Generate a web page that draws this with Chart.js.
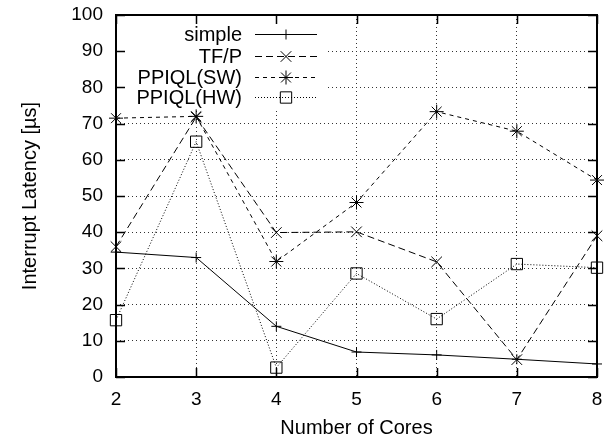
<!DOCTYPE html>
<html>
<head>
<meta charset="utf-8">
<script src="https://cdn.jsdelivr.net/npm/chart.js@4/dist/chart.umd.min.js"></script>
<style>
  html, body { margin: 0; padding: 0; background: #fff; }
  #wrap { width: 608px; height: 441px; }
</style>
</head>
<body>
<div id="wrap"><canvas id="chart" width="608" height="441"></canvas></div>
<script>
// data
const cores      = ['2', '3', '4', '5', '6', '7', '8'];
const simple     = [34.5, 33, 14, 6.9, 6.1, 4.9, 3.6];
const tfp        = [36, 71.8, 39.9, 40.1, 31.8, 4.8, 39];
const ppiqlSW    = [71.5, 72, 31.9, 48.2, 73.3, 67.9, 54.4];
const ppiqlHW    = [15.7, 65, 2.6, 28.6, 16, 31.2, 30.2];
const yTicks     = [0, 10, 20, 30, 40, 50, 60, 70, 80, 90, 100];

const FONT = 'Liberation Sans, Arial, Helvetica, sans-serif';

const series = [
    { label: 'simple',     data: simple,  dash: [],     point: 'cross',    r: 5 },
    { label: 'TF/P',       data: tfp,     dash: [7, 4], point: 'crossRot', r: 7.5 },
    { label: 'PPIQL(SW)',  data: ppiqlSW, dash: [4, 4], point: 'star',     r: 7 },
    { label: 'PPIQL(HW)',  data: ppiqlHW, dash: [1, 2], point: 'rect',     r: 8 }
];

// ── gnuplot-ish frame, inner ticks, key ──
const gnuplotDecor = {
    id: 'gnuplotDecor',
    beforeDatasetsDraw(chart) {
        const { ctx, chartArea: a } = chart;
        // key area hides the grid
        ctx.save();
        ctx.fillStyle = '#fff';
        ctx.fillRect(a.left + 1, a.top + 1, 326 - a.left, 108 - a.top);
        ctx.restore();
    },
    afterDatasetsDraw(chart) {
        const { ctx, chartArea: a, scales } = chart;
        ctx.save();
        ctx.strokeStyle = '#000';
        ctx.lineWidth = 1.5;
        ctx.setLineDash([]);
        const tl = 9;
        ctx.beginPath();
        yTicks.forEach(v => {
            const y = Math.round(scales.y.getPixelForValue(v)) + 0.5;
            ctx.moveTo(a.left, y);  ctx.lineTo(a.left + tl, y);
            ctx.moveTo(a.right, y); ctx.lineTo(a.right - tl, y);
        });
        cores.forEach((c, i) => {
            const x = Math.round(scales.x.getPixelForTick(i)) + 0.5;
            ctx.moveTo(x, a.bottom); ctx.lineTo(x, a.bottom - tl);
            ctx.moveTo(x, a.top);    ctx.lineTo(x, a.top + tl);
        });
        ctx.stroke();

        // frame
        ctx.lineWidth = 2;
        ctx.strokeRect(a.left, a.top, a.right - a.left, a.bottom - a.top);

        // key
        ctx.font = '20px ' + FONT;
        ctx.textAlign = 'right';
        ctx.textBaseline = 'middle';
        const rows = [34, 56, 77, 97];
        chart.data.datasets.forEach((ds, i) => {
            const y = rows[i];
            ctx.fillStyle = '#000';
            ctx.fillText(ds.label, 242, y + 1);
            ctx.lineWidth = 1;
            ctx.strokeStyle = '#000';
            ctx.setLineDash(ds.borderDash || []);
            ctx.beginPath();
            ctx.moveTo(255, y + 0.5);
            ctx.lineTo(317, y + 0.5);
            ctx.stroke();
            ctx.setLineDash([]);
            ctx.fillStyle = 'rgba(0,0,0,0)';
            Chart.helpers.drawPoint(ctx, {
                pointStyle: ds.pointStyle,
                radius: ds.pointRadius,
                borderWidth: 1
            }, 286, y + 0.5);
        });
        ctx.restore();
    }
};

new Chart(document.getElementById('chart'), {
    type: 'line',
    data: {
        labels: cores,
        datasets: series.map(s => ({
            label: s.label,
            data: s.data,
            borderColor: '#000',
            backgroundColor: 'rgba(0,0,0,0)',
            borderWidth: 1,
            borderDash: s.dash,
            pointStyle: s.point,
            pointRadius: s.r,
            pointBorderColor: '#000',
            pointBackgroundColor: 'rgba(0,0,0,0)',
            pointBorderWidth: 1,
            tension: 0,
            fill: false
        }))
    },
    options: {
        responsive: false,
        animation: false,
        layout: { padding: { top: 15, right: 11, left: 0, bottom: 0 } },
        plugins: {
            legend: { display: false },
            tooltip: { enabled: false }
        },
        scales: {
            x: {
                type: 'category',
                offset: false,
                afterFit: s => { s.height = 64; s.paddingLeft = 0; s.paddingRight = 0; },
                grid: { color: '#333', lineWidth: 1, drawTicks: false },
                border: { display: false, dash: [1, 3] },
                ticks: { color: '#000', font: { family: FONT, size: 19 }, padding: 11, maxRotation: 0 },
                title: { display: true, text: 'Number of Cores', color: '#000', font: { family: FONT, size: 20 }, padding: { top: 0, bottom: 1 } }
            },
            y: {
                min: 0,
                max: 100,
                afterFit: s => { s.width = 116; s.paddingTop = 0; s.paddingBottom = 0; },
                afterBuildTicks: s => { s.ticks = yTicks.map(v => ({ value: v })); },
                grid: { color: '#333', lineWidth: 1, drawTicks: false },
                border: { display: false, dash: [1, 3] },
                ticks: { color: '#000', font: { family: FONT, size: 19 }, padding: 13 },
                title: { display: true, text: 'Interrupt Latency [µs]', color: '#000', font: { family: FONT, size: 20 }, padding: { top: 18, bottom: 0 } }
            }
        }
    },
    plugins: [gnuplotDecor]
});
</script>
</body>
</html>
